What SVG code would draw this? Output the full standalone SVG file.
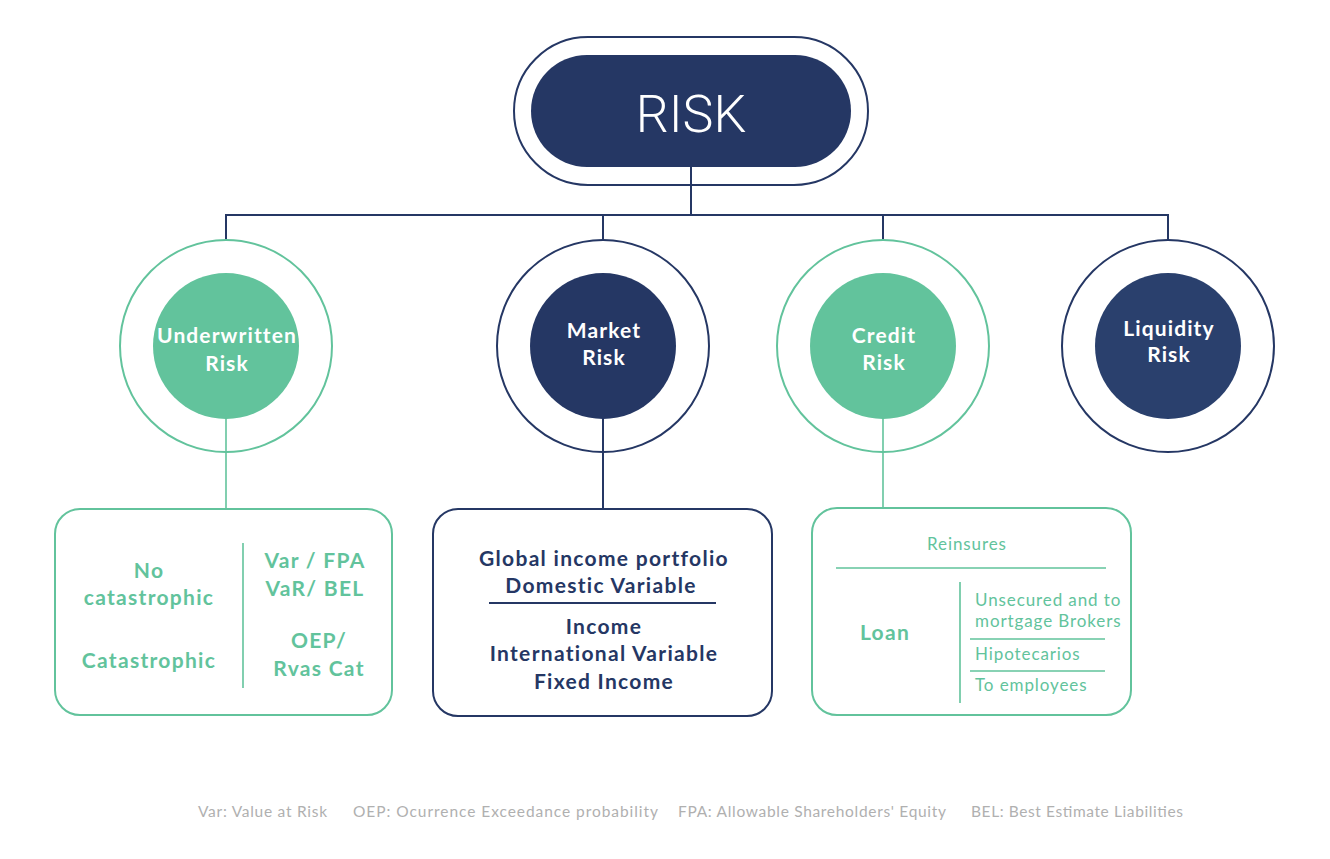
<svg xmlns="http://www.w3.org/2000/svg" width="1330" height="859" viewBox="0 0 1330 859">
<style>
.navy{fill:#253764}
.green{fill:#62c39c}
.ringN{fill:none;stroke:#253764;stroke-width:2}
.ringG{fill:none;stroke:#62c39c;stroke-width:2}
.lineN{fill:none;stroke:#253764;stroke-width:2}
.lineG{fill:none;stroke:#62c39c;stroke-width:1.6}
.t{font-family:Lato,"Open Sans","Liberation Sans",sans-serif;text-anchor:middle}
.w{fill:#ffffff;font-weight:700;font-size:21px;letter-spacing:1.1px}
.bg{fill:#62c39c;font-weight:700;font-size:21px;letter-spacing:1.3px}
.bn{fill:#253764;font-weight:700;font-size:21px;letter-spacing:1.3px}
.rg{fill:#62c39c;font-weight:400;font-size:17px;letter-spacing:0.9px}
.foot{font-family:Lato,"Open Sans","Liberation Sans",sans-serif;fill:#b0b0b0;font-size:15.5px;font-weight:400}
</style>
<rect width="1330" height="859" fill="#ffffff"/>
<g id="connectors">
<path class="lineN" d="M691 167V215M226 215H1168M226 214V240M603 214V240M883 214V240M1168 214V240"/>
<path class="lineG" d="M226 418V509"/>
<path class="lineN" d="M603 418V509"/>
<path class="lineG" d="M883 418V509"/>
</g>
<g id="risk">
<rect class="ringN" x="514" y="37" width="354" height="148" rx="74"/>
<rect class="navy" x="531" y="55" width="320" height="112" rx="56"/>
<text class="t" x="691" y="132" fill="#ffffff" font-size="52" font-weight="300" style="font-family:Roboto,'Liberation Sans',sans-serif">RISK</text>
</g>
<g id="underwritten">
<circle class="ringG" cx="226" cy="346" r="106"/>
<circle class="green" cx="226" cy="346" r="73"/>
<text class="t w" x="227" y="343">Underwritten</text>
<text class="t w" x="227" y="371">Risk</text>
</g>
<g id="market">
<circle class="ringN" cx="603" cy="346" r="106"/>
<circle class="navy" cx="603" cy="346" r="73"/>
<text class="t w" x="604" y="338">Market</text>
<text class="t w" x="604" y="365">Risk</text>
</g>
<g id="credit">
<circle class="ringG" cx="883" cy="346" r="106"/>
<circle class="green" cx="883" cy="346" r="73"/>
<text class="t w" x="884" y="343">Credit</text>
<text class="t w" x="884" y="370">Risk</text>
</g>
<g id="liquidity">
<circle class="ringN" cx="1168" cy="346" r="106"/>
<circle fill="#2a406d" cx="1168" cy="346" r="73"/>
<text class="t w" x="1169" y="336">Liquidity</text>
<text class="t w" x="1169" y="362">Risk</text>
</g>
<g id="underwritten-box">
<rect x="55" y="509" width="337" height="206" rx="25" fill="none" stroke="#62c39c" stroke-width="2"/>
<path class="lineG" d="M243 543V688"/>
<text class="t bg" x="149" y="578">No</text>
<text class="t bg" x="149" y="605">catastrophic</text>
<text class="t bg" x="149" y="668">Catastrophic</text>
<text class="t bg" x="315" y="568">Var / FPA</text>
<text class="t bg" x="315" y="596">VaR/ BEL</text>
<text class="t bg" x="319" y="648">OEP/</text>
<text class="t bg" x="319" y="676">Rvas Cat</text>
</g>
<g id="market-box">
<rect x="433" y="509" width="339" height="207" rx="25" fill="none" stroke="#253764" stroke-width="2"/>
<path class="lineN" d="M489 603H716"/>
<text class="t bn" x="604" y="566">Global income portfolio</text>
<text class="t bn" x="601" y="593">Domestic Variable</text>
<text class="t bn" x="604" y="634">Income</text>
<text class="t bn" x="604" y="661">International Variable</text>
<text class="t bn" x="604" y="689">Fixed Income</text>
</g>
<g id="credit-box">
<rect x="812" y="508" width="319" height="207" rx="25" fill="none" stroke="#62c39c" stroke-width="2"/>
<path class="lineG" d="M836 568H1106M960 582V703M970 639H1105M970 671H1105"/>
<text class="t rg" x="967" y="550">Reinsures</text>
<text class="t bg" x="885" y="640">Loan</text>
<text class="t rg" x="975" y="606" style="text-anchor:start">Unsecured and to</text>
<text class="t rg" x="975" y="627" style="text-anchor:start">mortgage Brokers</text>
<text class="t rg" x="975" y="660" style="text-anchor:start">Hipotecarios</text>
<text class="t rg" x="975" y="691" style="text-anchor:start">To employees</text>
</g>
<g id="legend">
<text class="foot" x="198" y="817" textLength="129" lengthAdjust="spacing">Var: Value at Risk</text>
<text class="foot" x="353" y="817" textLength="305" lengthAdjust="spacing">OEP: Ocurrence Exceedance probability</text>
<text class="foot" x="678" y="817" textLength="268" lengthAdjust="spacing">FPA: Allowable Shareholders' Equity</text>
<text class="foot" x="971" y="817" textLength="212" lengthAdjust="spacing">BEL: Best Estimate Liabilities</text>
</g>
</svg>
